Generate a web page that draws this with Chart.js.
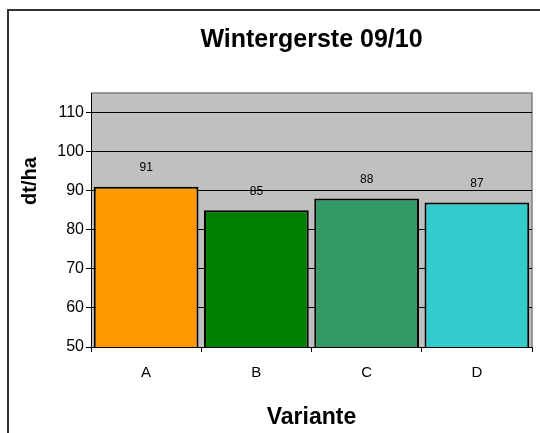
<!DOCTYPE html>
<html>
<head>
<meta charset="utf-8">
<script src="https://cdn.jsdelivr.net/npm/chart.js@4"></script>
<style>
  body { margin: 0; background: #fff; overflow: hidden; }
  #frame { position: absolute; left: 7px; top: 9px; width: 600px; height: 500px; border: 2px solid #333; }
  #myChart { position: absolute; left: 0; top: 0; }
</style>
</head>
<body>
<div id="frame"></div>
<canvas id="myChart" width="540" height="433"></canvas>
<script>
const labels = ['A', 'B', 'C', 'D']
const ertrag = [91, 85, 88, 87]
const barColors = ['#FF9900', '#008000', '#339966', '#33CCCC']
const yTicks = [50, 60, 70, 80, 90, 100, 110]

const font = 'Arial, "Liberation Sans", sans-serif'

// grey plot area with grey top/right border, like the old Excel charts
const plotArea = {
    id: 'plotArea',
    beforeDraw(chart) {
        const { ctx, chartArea: a } = chart
        ctx.save()
        ctx.fillStyle = '#C0C0C0'
        ctx.fillRect(a.left, a.top, a.right - a.left, a.bottom - a.top)
        ctx.strokeStyle = '#808080'
        ctx.lineWidth = 1.5
        ctx.beginPath()
        ctx.moveTo(a.left, a.top)
        ctx.lineTo(a.right, a.top)
        ctx.lineTo(a.right, a.bottom)
        ctx.stroke()
        ctx.restore()
    },
    afterDraw(chart) {
        const ctx = chart.ctx
        ctx.save()
        ctx.translate(30, 181)
        ctx.rotate(-Math.PI / 2)
        ctx.font = 'bold 20px ' + font
        ctx.fillStyle = '#000'
        ctx.textAlign = 'center'
        ctx.textBaseline = 'middle'
        ctx.fillText('dt/ha', 0, 0)
        ctx.restore()
    }
}

const valueLabels = {
    id: 'valueLabels',
    afterDatasetsDraw(chart) {
        const ctx = chart.ctx
        const meta = chart.getDatasetMeta(0)
        ctx.save()
        ctx.font = '12px ' + font
        ctx.fillStyle = '#000'
        ctx.textAlign = 'center'
        ctx.textBaseline = 'middle'
        meta.data.forEach((bar, i) => {
            ctx.fillText(ertrag[i], bar.x, bar.y - 19)
        })
        ctx.restore()
    }
}

const dataConfig = {
    labels: labels,
    datasets: [{
        data: ertrag,
        backgroundColor: barColors,
        borderColor: '#000',
        borderWidth: 2,
        borderSkipped: false,
        barPercentage: 0.95,
        categoryPercentage: 1
    }]
}

const config = {
    type: 'bar',
    data: dataConfig,
    plugins: [plotArea, valueLabels],
    options: {
        responsive: false,
        animation: false,
        layout: { padding: { left: 0, right: 8, top: 0, bottom: 0 } },
        plugins: {
            legend: { display: false },
            tooltip: { enabled: false },
            title: {
                display: true,
                fullSize: false,
                text: 'Wintergerste 09/10',
                color: '#000',
                font: { family: font, size: 25, weight: 'bold' },
                padding: { top: 25, bottom: 38 }
            }
        },
        scales: {
            x: {
                grid: { drawOnChartArea: false, color: '#000', tickLength: 5, offset: true },
                border: { color: '#000', width: 1 },
                ticks: { color: '#000', font: { family: font, size: 15 }, padding: 12 },
                title: {
                    display: true,
                    text: 'Variante',
                    color: '#000',
                    font: { family: font, size: 23, weight: 'bold' },
                    padding: { top: 20, bottom: 2 }
                },
                afterFit(scale) { scale.height = 86 }
            },
            y: {
                min: 50,
                max: 115,
                afterBuildTicks(scale) {
                    scale.ticks = yTicks.map(v => ({ value: v }))
                },
                grid: { color: '#000', tickLength: 5 },
                border: { color: '#000', width: 1 },
                ticks: { color: '#000', font: { family: font, size: 16 }, padding: 2 },
                afterFit(scale) { scale.width = 91 }
            }
        }
    }
}

const myChart = new Chart(document.getElementById('myChart'), config)
</script>
</body>
</html>
